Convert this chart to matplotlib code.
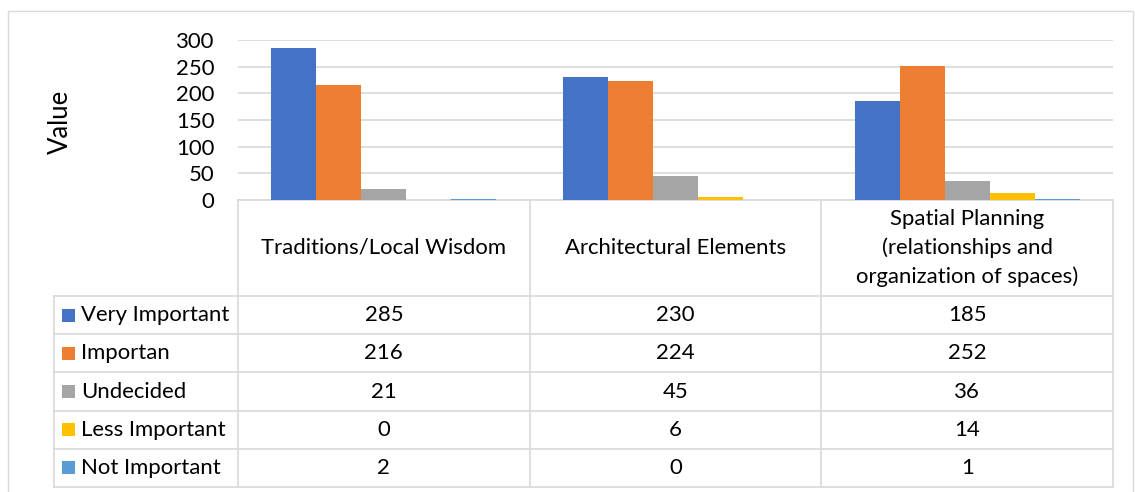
import matplotlib
matplotlib.use("Agg")
import matplotlib.pyplot as plt
from matplotlib.patches import Rectangle
from matplotlib.lines import Line2D

plt.rcParams['font.family'] = ['Lato', 'DejaVu Sans']

categories = ["Traditions/Local Wisdom", "Architectural Elements",
              "Spatial Planning\n(relationships and\norganization of spaces)"]
series_names = ["Very Important", "Importan", "Undecided", "Less Important", "Not Important"]
very_important = [285, 230, 185]
importan = [216, 224, 252]
undecided = [21, 45, 36]
less_important = [0, 6, 14]
not_important = [2, 0, 1]
series_values = [very_important, importan, undecided, less_important, not_important]
colors = ["#4472C4", "#ED7D31", "#A5A5A5", "#FFC000", "#5B9BD5"]
yticks = [0, 50, 100, 150, 200, 250, 300]

W, H = 1135, 492
fig = plt.figure(figsize=(W / 100, H / 100), dpi=100)
grid_c = "#D9D9D9"
FS = 15.9

# table / frame axes in pixel coordinates
tax = fig.add_axes([0, 0, 1, 1])
tax.set_xlim(0, W)
tax.set_ylim(H, 0)
tax.axis("off")

# outer border
tax.add_patch(Rectangle((8, 11), 1125, 490, fill=False, edgecolor=grid_c, lw=1))

x_leg, x0, x1 = 54, 238, 1113
col_w = (x1 - x0) / 3
y_top, y_head, y_bot = 200, 296, 487
row_h = (y_bot - y_head) / 5

# horizontal lines
tax.add_line(Line2D([x0, x1], [y_top, y_top], color=grid_c, lw=1.2))
for i in range(6):
    y = y_head + i * row_h
    tax.add_line(Line2D([x_leg, x1], [y, y], color=grid_c, lw=1.2))
# vertical lines
for i in range(4):
    x = x0 + i * col_w
    tax.add_line(Line2D([x, x], [y_top, y_bot], color=grid_c, lw=1.2))
tax.add_line(Line2D([x_leg, x_leg], [y_head, y_bot], color=grid_c, lw=1.2))

# header text
for j, cat in enumerate(categories):
    tax.text(x0 + (j + 0.5) * col_w, (y_top + y_head) / 2, cat, ha="center", va="center",
             fontsize=FS, color="#000000", linespacing=1.5)

# rows
for i, (name, vals, c) in enumerate(zip(series_names, series_values, colors)):
    yc = y_head + (i + 0.5) * row_h
    tax.add_patch(Rectangle((62, yc - 6.5), 13, 13, facecolor=c, edgecolor="none"))
    tax.text(81, yc, name, ha="left", va="center", fontsize=FS, color="#000000")
    for j, v in enumerate(vals):
        tax.text(x0 + (j + 0.5) * col_w, yc, str(v), ha="center", va="center",
                 fontsize=FS, color="#000000")

# bar axes
ax = fig.add_axes([x0 / W, 1 - 200 / H, (x1 - x0) / W, 160 / H])
ax.patch.set_alpha(0)
ax.set_xlim(-0.5, 2.5)
ax.set_ylim(0, 300)
bar_w = 45 / col_w
gap = (1 - 5 * bar_w) / 2
for i, (vals, c) in enumerate(zip(series_values, colors)):
    xs = [j - 0.5 + gap + bar_w * (i + 0.5) for j in range(3)]
    ax.bar(xs, vals, width=bar_w, color=c, zorder=3)
ax.set_yticks(yticks)
ax.set_yticklabels([str(t) for t in yticks], fontsize=FS)
ax.set_xticks([])
ax.tick_params(axis="y", length=0, pad=17)
ax.grid(axis="y", color=grid_c, lw=1.2, zorder=0)
for s in ax.spines.values():
    s.set_visible(False)

fig.text(60 / W, 1 - 122 / H, "Value", rotation=90, ha="center", va="center", fontsize=18.5)

fig.savefig("out.png", dpi=100)
